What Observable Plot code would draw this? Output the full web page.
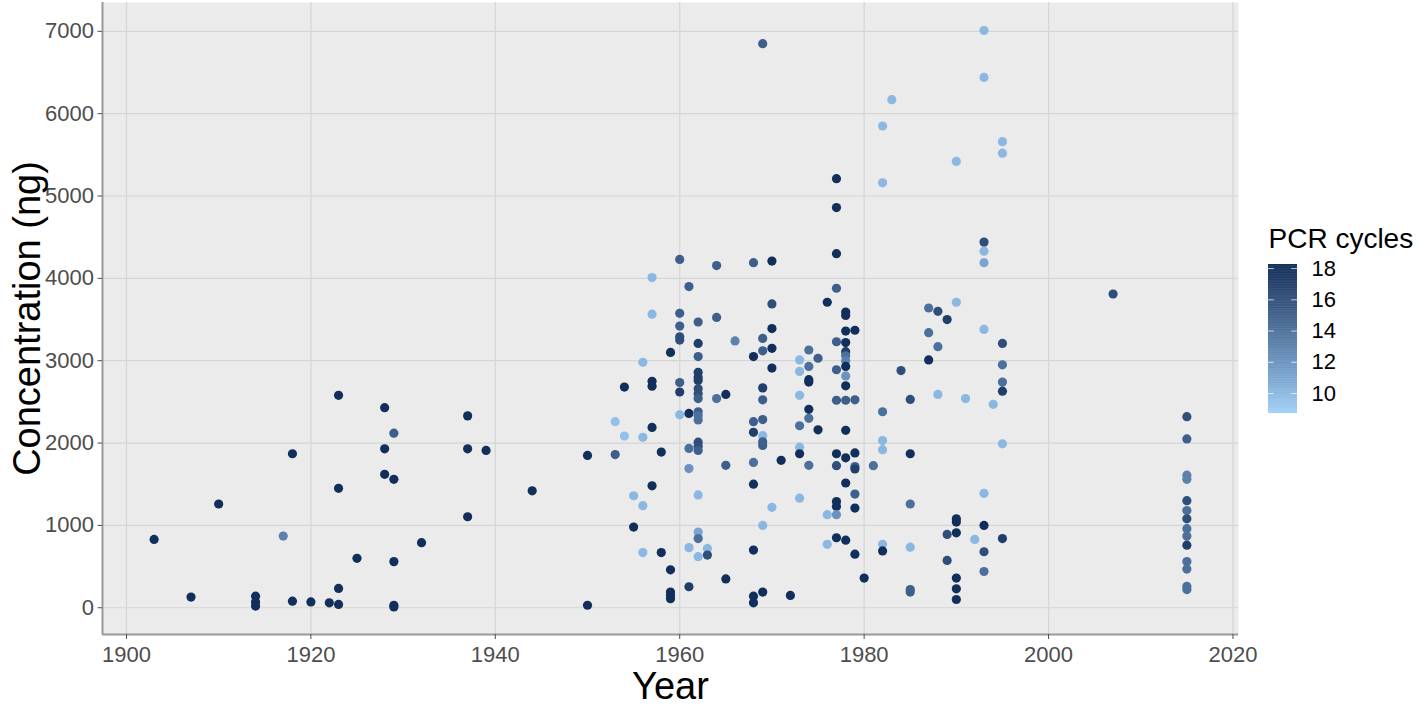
<!DOCTYPE html>
<html>
<head>
<meta charset="utf-8">
<script src="https://cdn.jsdelivr.net/npm/d3@7"></script>
<script src="https://cdn.jsdelivr.net/npm/@observablehq/plot@0.6"></script>
<style>
  html, body { margin: 0; padding: 0; background: #ffffff; }
  #wrap { position: relative; width: 1418px; height: 706px; }
  #legend { position: absolute; left: 1240px; top: 200px; }
</style>
</head>
<body>
<div id="wrap"><div id="main"></div><div id="legend"></div></div>
<script>
// ---- data ----
const years = [
  1903,1907,1910,1914,1914,1914,1917,1918,1918,1920,1922,1923,1923,1923,1923,1925,
  1928,1928,1928,1929,1929,1929,1929,1929,1932,1937,1937,1937,1939,1944,1950,1950,
  1953,1953,1954,1954,1955,1955,1956,1956,1956,1956,1957,1957,1957,1957,1957,1957,
  1958,1958,1959,1959,1959,1959,1959,
  1960,1960,1960,1960,1960,1960,1960,1960,
  1961,1961,1961,1961,1961,1961,
  1962,1962,1962,1962,1962,1962,1962,1962,1962,1962,1962,1962,1962,1962,1962,1962,1962,1962,1962,
  1963,1963,1964,1964,1964,1965,1965,1965,1966,
  1968,1968,1968,1968,1968,1968,1968,1968,1968,
  1969,1969,1969,1969,1969,1969,1969,1969,1969,1969,1969,
  1970,1970,1970,1970,1970,1970,1971,1972,
  1973,1973,1973,1973,1973,1973,1973,
  1974,1974,1974,1974,1974,1974,1974,1975,1975,1976,1976,1976,
  1977,1977,1977,1977,1977,1977,1977,1977,1977,1977,1977,1977,1977,
  1978,1978,1978,1978,1978,1978,1978,1978,1978,1978,1978,1978,1978,1978,1978,
  1979,1979,1979,1979,1979,1979,1979,1979,1980,1981,
  1982,1982,1982,1982,1982,1982,1982,1983,1984,
  1985,1985,1985,1985,1985,1985,1987,1987,1987,1988,1988,1988,1989,1989,1989,
  1990,1990,1990,1990,1990,1990,1990,1990,1991,1992,
  1993,1993,1993,1993,1993,1993,1993,1993,1993,1993,1994,
  1995,1995,1995,1995,1995,1995,1995,1995,2007,
  2015,2015,2015,2015,2015,2015,2015,2015,2015,2015,2015,2015,2015,2015
];
const concentration = [
  830,130,1260,140,70,20,870,1870,80,70,60,2580,1450,235,40,600,
  2430,1930,1620,2120,1560,560,30,10,790,2330,1930,1105,1910,1420,1850,30,
  2260,1860,2680,2085,1360,980,2980,2070,1240,670,4010,3565,2750,2690,2190,1480,
  1890,670,3100,460,190,150,110,
  4230,3575,3420,3290,3250,2735,2620,2345,
  3900,2360,1935,1690,730,255,
  3470,3210,3050,2860,2800,2760,2660,2600,2540,2380,2330,2280,2010,1960,1910,1370,920,840,620,
  720,640,4155,3525,2540,2590,1730,350,3240,
  4190,3050,2260,2130,1765,1500,700,140,60,
  6850,3270,3120,2670,2525,2285,2090,2015,1970,1000,190,
  4210,3690,3390,3150,2910,1220,1790,150,
  3010,2870,2580,2210,1950,1870,1330,
  3130,2930,2770,2740,2410,2300,1730,3030,2160,3710,1130,770,
  5210,4860,4300,3880,3230,2890,2520,1870,1725,1290,1230,1130,850,
  3590,3550,3360,3220,3110,3060,3000,2930,2815,2695,2520,2155,1820,1515,820,
  3370,2525,1880,1715,1685,1380,1210,650,360,1725,
  5850,5160,2380,2030,1920,770,690,6170,2880,
  2530,1870,1260,735,220,190,3640,3340,3010,3600,3170,2590,3500,890,575,
  5420,3710,1080,1040,910,360,230,100,2540,830,
  7010,6440,4440,4330,4190,3380,1390,1000,680,440,2470,
  5660,5520,3210,2950,2740,2630,1990,840,3810,
  2320,2050,1610,1560,1300,1180,1080,960,870,760,560,470,260,220
];
const pcrCycles = [
  18,18,18,18,18,18,13,18,18,18,18,18,18,18,18,18,
  18,18,18,15,18,18,18,18,18,18,18,18,18,18,18,18,
  9.5,15,18,9.5,10,18,10,10,10,10,10,10,18,18,18,18,
  18,18,18,18,18,18,18,
  15,15,15,16,16,15,17,10,
  15,18,14,12,10,17,
  15,17,15,17,17,17,16,16,15,15,14,14,16,16,15,10,11,14,10,
  10,16,15,15,14,18,15,18,13,
  15,18,15,17,14,18,18,18,18,
  15,15,15,17,15,15,10,15,15,10,18,
  18,16,18,18,18,10,18,18,
  10,10,10,14,10,18,10,
  14,14,18,18,18,14,14,15,18,18,10,10,
  18,18,18,15,15,15,15,18,16,18,18,12,18,
  18,18,18,18,17,14,13,18,12,18,15,18,18,18,18,
  18,15,18,15,17,15,18,18,18,14,
  10,10,14,10,10,10,18,10,16,
  16,18,14,10,15,15,14,14,18,16,14,10,17,16,16,
  10,10,18,18,18,18,18,18,10,10,
  10,10,16,10,11,10,10,18,16,14,10,
  10,10,16,14,14,17,10,17,16,
  16,15,13,13,16,14,16,14,14,17,14,14,14,14
];
const xTicks = [1900, 1920, 1940, 1960, 1980, 2000, 2020];
const yTicks = [0, 1000, 2000, 3000, 4000, 5000, 6000, 7000];
const legendTicks = [10, 12, 14, 16, 18];

const data = years.map((y, i) => ({year: y, conc: concentration[i], cycles: pcrCycles[i]}));

const font = "'Liberation Sans', Arial, Helvetica, sans-serif";
const colorScale = {
  type: "linear",
  domain: [8.72, 18.26],
  range: ["#a0d0f8", "#0c2b56"],
  interpolate: "hcl"
};
const xDomain = [1897.4, 2020.6];
const yDomain = [-325, 7350];

const chart = Plot.plot({
  width: 1418,
  height: 706,
  marginLeft: 102,
  marginRight: 180,
  marginTop: 2,
  marginBottom: 72,
  style: {fontFamily: font, background: "white", overflow: "visible"},
  x: {domain: xDomain},
  y: {domain: yDomain},
  color: colorScale,
  marks: [
    Plot.frame({fill: "#ebebeb", stroke: "none"}),
    Plot.gridX(xTicks, {stroke: "#d5d5d5", strokeOpacity: 1, strokeWidth: 1.2}),
    Plot.gridY(yTicks, {stroke: "#d5d5d5", strokeOpacity: 1, strokeWidth: 1.2}),
    Plot.ruleX([xDomain[0]], {stroke: "#9a9a9a", strokeWidth: 2}),
    Plot.ruleY([yDomain[0]], {stroke: "#9a9a9a", strokeWidth: 2}),
    Plot.axisX(xTicks, {tickSize: 5, tickPadding: 7, fontSize: 22, color: "#4d4d4d", label: null, tickFormat: d => String(d)}),
    Plot.axisY(yTicks, {tickSize: 4.5, tickPadding: 4, fontSize: 22, color: "#4d4d4d", label: null, tickFormat: d => String(d)}),
    Plot.dot(data, {x: "year", y: "conc", fill: "cycles", r: 4.6}),
    Plot.text(["Year"], {frameAnchor: "bottom", dy: 64, fontSize: 38, fill: "black", textAnchor: "middle"}),
    Plot.text(["Concentration (ng)"], {frameAnchor: "left", dx: -75, rotate: -90, fontSize: 38, fill: "black", textAnchor: "middle"})
  ]
});
document.getElementById("main").appendChild(chart);

// ---- colour bar legend ----
const step = 0.04;
const ramp = d3.range(colorScale.domain[0], colorScale.domain[1], step);
const legend = Plot.plot({
  width: 178,
  height: 240,
  marginLeft: 28,
  marginRight: 121,
  marginTop: 64,
  marginBottom: 27,
  style: {fontFamily: font, background: "transparent", overflow: "visible"},
  x: {domain: [0, 1], axis: null},
  y: {domain: colorScale.domain, axis: null},
  color: colorScale,
  marks: [
    Plot.rect(ramp, {x1: 0, x2: 1, y1: d => d, y2: d => Math.min(d + step * 1.6, colorScale.domain[1]), fill: d => d + step / 2}),
    Plot.ruleY(legendTicks, {x1: 0, x2: 0.2, stroke: "white", strokeOpacity: 0.7}),
    Plot.ruleY(legendTicks, {x1: 0.8, x2: 1, stroke: "white", strokeOpacity: 0.7}),
    Plot.axisY(legendTicks, {anchor: "right", tickSize: 0, tickPadding: 14, fontSize: 22, color: "black", label: null}),
    Plot.text(["PCR cycles"], {frameAnchor: "top-left", dy: -17, lineAnchor: "bottom", textAnchor: "start", fontSize: 28, fill: "black"})
  ]
});
document.getElementById("legend").appendChild(legend);
</script>
</body>
</html>
